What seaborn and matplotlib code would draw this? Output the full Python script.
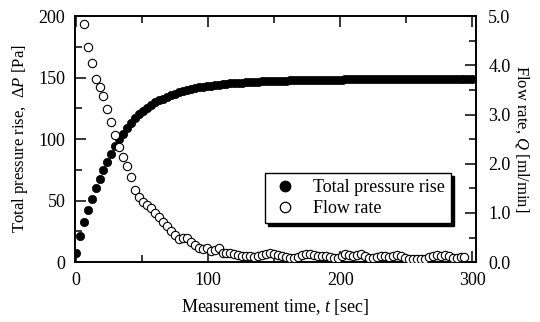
import numpy as np
import pandas as pd
import matplotlib
matplotlib.use("Agg")
import matplotlib.pyplot as plt
import seaborn as sns
from matplotlib.ticker import MultipleLocator, FormatStrFormatter
from matplotlib.lines import Line2D

# ---------------- data ----------------
time_pressure = np.arange(0, 301, 3)
pressure = [
    7.6, 21, 33, 42, 51, 60, 67.5, 75, 81.5, 88,
    94, 100, 104.5, 109, 113, 117, 120.5, 123, 125.5, 128,
    130, 131.5, 133, 134.5, 135.8, 137, 138, 139, 139.8, 140.5,
    141.3, 142, 142.5, 143, 143.5, 144, 144.3, 144.7, 145, 145.3,
    145.5, 145.8, 146, 146.2, 146.4, 146.6, 146.8, 147, 147.1, 147.2,
    147.3, 147.4, 147.5, 147.6, 147.7, 147.8, 147.8, 147.9, 148, 148,
    148.1, 148.1, 148.2, 148.2, 148.3, 148.3, 148.4, 148.4, 148.5, 148.5,
    148.5, 148.6, 148.6, 148.6, 148.7, 148.7, 148.7, 148.8, 148.8, 148.8,
    148.8, 148.9, 148.9, 148.9, 148.9, 149, 149, 149, 149, 149,
    149.1, 149.1, 149.1, 149.1, 149.1, 149.2, 149.2, 149.2, 149.2, 149.2,
    149.2,
]
time_flow = np.arange(6, 295, 3)
flow = [
    4.84, 4.38, 4.04, 3.73, 3.55, 3.38, 3.12, 2.84, 2.59, 2.33,
    2.13, 1.96, 1.72, 1.47, 1.32, 1.23, 1.16, 1.09, 0.99, 0.91,
    0.82, 0.74, 0.63, 0.55, 0.46, 0.49, 0.50, 0.41, 0.35, 0.28,
    0.26, 0.28, 0.23, 0.24, 0.28, 0.19, 0.18, 0.18,
    0.16, 0.14, 0.13, 0.12, 0.12, 0.11, 0.12, 0.14, 0.16, 0.18,
    0.17, 0.15, 0.13, 0.11, 0.09, 0.08, 0.10, 0.14, 0.17, 0.16,
    0.14, 0.13, 0.12, 0.12, 0.10, 0.09, 0.08, 0.12, 0.16, 0.15,
    0.12, 0.15, 0.17, 0.13, 0.09, 0.08, 0.10, 0.13, 0.12, 0.11,
    0.13, 0.14, 0.12, 0.08, 0.07, 0.06, 0.06, 0.06, 0.07, 0.10,
    0.13, 0.15, 0.13, 0.14, 0.12, 0.09, 0.09, 0.10, 0.11,
]
assert len(pressure) == len(time_pressure)
assert len(flow) == len(time_flow)

df_p = pd.DataFrame({"t": time_pressure, "P": pressure})
df_q = pd.DataFrame({"t": time_flow, "Q": flow})

# ---------------- style ----------------
sns.set_theme(style="ticks")
plt.rcParams["font.family"] = ["Liberation Serif", "DejaVu Serif"]
plt.rcParams["mathtext.fontset"] = "custom"
plt.rcParams["mathtext.rm"] = "Liberation Serif"
plt.rcParams["mathtext.it"] = "Liberation Serif:italic"
for k in ("text.color", "axes.labelcolor", "xtick.color", "ytick.color",
          "axes.edgecolor"):
    plt.rcParams[k] = "black"
FS_TICK = 13
FS_X = 13
FS_Y = 12
FS_LEG = 13

fig = plt.figure(figsize=(5.4, 3.22), dpi=100)
ax = fig.add_axes([0.139, 0.186, 0.742, 0.764])
ax2 = ax.twinx()

sns.scatterplot(data=df_p, x="t", y="P", ax=ax, color="black", marker="o",
                s=36, edgecolor="black", linewidth=0.5, legend=False, zorder=3)
sns.scatterplot(data=df_q, x="t", y="Q", ax=ax2, facecolor="white", marker="o",
                s=36, edgecolor="black", linewidth=0.8, legend=False, zorder=3)

ax.set_xlim(-0.5, 302.5)
ax.set_ylim(0, 200)
ax2.set_ylim(0, 5)

ax.xaxis.set_major_locator(MultipleLocator(100))
ax.xaxis.set_minor_locator(MultipleLocator(50))
ax.yaxis.set_major_locator(MultipleLocator(50))
ax.yaxis.set_minor_locator(MultipleLocator(25))
ax2.yaxis.set_major_locator(MultipleLocator(1))
ax2.yaxis.set_minor_locator(MultipleLocator(0.5))
ax2.yaxis.set_major_formatter(FormatStrFormatter("%.1f"))

ax.tick_params(axis="x", which="both", direction="in", top=True, bottom=True,
               labelsize=FS_TICK, pad=7, width=1.1, colors="black")
ax.tick_params(axis="y", which="both", direction="in", left=True, right=False,
               labelsize=FS_TICK, pad=7, width=1.1, colors="black")
ax2.tick_params(axis="y", which="both", direction="in", right=True, left=False,
                labelsize=FS_TICK, pad=9, width=1.1, colors="black")
for a in (ax, ax2):
    a.tick_params(which="major", length=8)
    a.tick_params(which="minor", length=5)
    for sp in a.spines.values():
        sp.set_visible(True)
        sp.set_linewidth(1.2)
        sp.set_color("black")

ax.set_xlabel("Measurement time, $\\mathit{t}$ [sec]", fontsize=FS_X, labelpad=6,
              color="black")
ax.set_ylabel("Total pressure rise,  $\\mathit{\\Delta P}$ [Pa]", fontsize=FS_Y,
              labelpad=6, color="black")
ax2.set_ylabel("Flow rate, $\\mathit{Q}$ [ml/min]", fontsize=FS_Y, rotation=270,
               labelpad=2, va="bottom", color="black")

handles = [
    Line2D([], [], linestyle="none", marker="o", markersize=7.5,
           markerfacecolor="black", markeredgecolor="black"),
    Line2D([], [], linestyle="none", marker="o", markersize=7.5,
           markerfacecolor="white", markeredgecolor="black", markeredgewidth=0.9),
]
leg = ax2.legend(handles, ["Total pressure rise", "Flow rate"],
                 loc="upper left", bbox_to_anchor=(0.474, 0.362),
                 borderaxespad=0, frameon=True, fancybox=False,
                 shadow={"facecolor": "black", "edgecolor": "black", "alpha": 1.0},
                 fontsize=FS_LEG, handletextpad=0.8, borderpad=0.35,
                 labelspacing=0.2, handlelength=1.5)
leg.get_frame().set_edgecolor("black")
leg.get_frame().set_linewidth(1.0)
leg.get_frame().set_alpha(1.0)
for txt in leg.get_texts():
    txt.set_color("black")

fig.savefig("out.png", dpi=100)
